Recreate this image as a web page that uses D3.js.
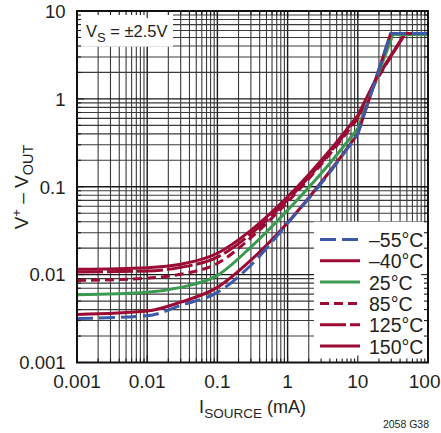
<!DOCTYPE html>
<html><head><meta charset="utf-8">
<script src="https://cdn.jsdelivr.net/npm/d3@7/dist/d3.min.js"></script>
<style>
html,body{margin:0;padding:0;background:#fff;}
svg{display:block;}
text{font-family:"Liberation Sans Narrow","Arial Narrow","Liberation Sans",Arial,sans-serif;fill:#231f20;}
</style></head>
<body>
<svg id="chart" width="441" height="433"></svg>
<script>
// ---------- data ----------
const xTickValues = [0.001, 0.01, 0.1, 1, 10, 100];
const xTickLabels = ["0.001", "0.01", "0.1", "1", "10", "100"];
const yTickValues = [0.001, 0.01, 0.1, 1, 10];
const yTickLabels = ["0.001", "0.01", "0.1", "1", "10"];

const seriesNames = ["–55°C", "–40°C", "25°C", "85°C", "125°C", "150°C"];

// ISOURCE (mA) and V+ - VOUT (V) per series
const iM55  = [0.001, 0.01, 0.03, 0.1, 0.3, 1, 4, 10, 29.4, 100];
const vM55  = [0.00317, 0.0034, 0.00446, 0.00628, 0.0128, 0.0384, 0.146, 0.40, 5.55, 5.55];
const iM40  = [0.001, 0.01, 0.03, 0.1, 0.3, 1, 4, 10, 29.4, 100];
const vM40  = [0.00352, 0.00385, 0.00486, 0.00716, 0.0146, 0.039, 0.15, 0.40, 5.55, 5.55];
const i25   = [0.001, 0.01, 0.03, 0.1, 0.3, 1, 4, 10, 31.7, 100];
const v25   = [0.0059, 0.0063, 0.00716, 0.0098, 0.0206, 0.054, 0.185, 0.46, 5.42, 5.42];
const i85   = [0.001, 0.01, 0.03, 0.1, 0.3, 1, 4, 10, 18.6, 47, 100];
const v85   = [0.0086, 0.0091, 0.0101, 0.0134, 0.0263, 0.0672, 0.236, 0.60, 1.65, 5.5, 5.5];
const i125  = [0.001, 0.01, 0.03, 0.1, 0.3, 1, 4, 10, 18.6, 47, 100];
const v125  = [0.0107, 0.0110, 0.0121, 0.0158, 0.0291, 0.071, 0.245, 0.62, 1.7, 5.5, 5.5];
const i150  = [0.001, 0.01, 0.03, 0.1, 0.3, 1, 4, 10, 18.6, 47, 100];
const v150  = [0.0115, 0.0120, 0.0131, 0.0175, 0.0319, 0.0766, 0.26, 0.65, 1.75, 5.5, 5.5];
// index of the point where the smooth part ends and straight segments begin
const kinkIndex = [7, 7, 7, 7, 7, 7];

// ---------- styles ----------
const RED = "#9b0b33", BLUE = "#3d5aa8", GREEN = "#3a9a4f";
const styles = [
  {color: BLUE,  dash: "16,6"},
  {color: RED,   dash: null},
  {color: GREEN, dash: null},
  {color: RED,   dash: "9,5"},
  {color: RED,   dash: "26,4"},
  {color: RED,   dash: null}
];
const seriesI = [iM55, iM40, i25, i85, i125, i150];
const seriesV = [vM55, vM40, v25, v85, v125, v150];

const series = seriesNames.map((n, k) => ({
  name: n,
  pts: seriesI[k].map((iv, j) => [iv, seriesV[k][j]]),
  kink: kinkIndex[k],
  color: styles[k].color,
  dash: styles[k].dash
}));

// ---------- layout ----------
const L = 77, R = 428, T = 11, B = 362.5;
const svg = d3.select("#chart");
const x = d3.scaleLog().domain([0.001, 100]).range([L, R]);
const y = d3.scaleLog().domain([0.001, 10]).range([B, T]);

// grid values
const xGrid = [], yGrid = [];
for (let e = -3; e <= 1; e++) for (let k = 1; k <= 9; k++) xGrid.push(k * Math.pow(10, e));
for (let e = -3; e <= 0; e++) for (let k = 1; k <= 9; k++) yGrid.push(k * Math.pow(10, e));
const isMajor = v => Math.abs(Math.log10(v) - Math.round(Math.log10(v))) < 1e-9;

const grid = svg.append("g");
grid.selectAll("line.gx").data(xGrid.filter(v => v > 0.0011 && v < 99)).enter().append("line")
  .attr("x1", d => x(d)).attr("x2", d => x(d)).attr("y1", T).attr("y2", B)
  .attr("stroke", d => isMajor(d) ? "#1a1a1a" : "#3a3a3a")
  .attr("stroke-width", d => isMajor(d) ? 1.4 : 1.1);
grid.selectAll("line.gy").data(yGrid.filter(v => v > 0.0011 && v < 9.9)).enter().append("line")
  .attr("y1", d => y(d)).attr("y2", d => y(d)).attr("x1", L).attr("x2", R)
  .attr("stroke", d => isMajor(d) ? "#1a1a1a" : "#3a3a3a")
  .attr("stroke-width", d => isMajor(d) ? 1.4 : 1.1);

// white boxes for annotation and legend
const legX = 314, legY = 221.7;
svg.append("rect").attr("x", L).attr("y", T).attr("width", 173 - L).attr("height", 46.7 - T).attr("fill", "#fff");
svg.append("rect").attr("x", legX).attr("y", legY).attr("width", R - legX).attr("height", B - legY).attr("fill", "#fff");

// inside ticks
const ticks = svg.append("g").attr("stroke", "#1a1a1a").attr("stroke-width", 1.1);
xGrid.concat([100]).forEach(v => {
  const len = isMajor(v) ? 7 : 4;
  ticks.append("line").attr("x1", x(v)).attr("x2", x(v)).attr("y1", B).attr("y2", B - len);
  ticks.append("line").attr("x1", x(v)).attr("x2", x(v)).attr("y1", T).attr("y2", T + len);
});
yGrid.concat([10]).forEach(v => {
  const len = isMajor(v) ? 7 : 4;
  ticks.append("line").attr("y1", y(v)).attr("y2", y(v)).attr("x1", L).attr("x2", L + len);
  ticks.append("line").attr("y1", y(v)).attr("y2", y(v)).attr("x1", R).attr("x2", R - len);
});

// curves: smooth low-current part + straight high-current part
const smooth = d3.line().x(d => x(d[0])).y(d => y(d[1])).curve(d3.curveMonotoneX);
const straight = d3.line().x(d => x(d[0])).y(d => y(d[1]));
const pathFor = s => smooth(s.pts.slice(0, s.kink + 1)) + straight(s.pts.slice(s.kink)).replace(/^M/, "L");

const drawOrder = [5, 4, 3, 2, 1, 0];
const curves = svg.append("g");
drawOrder.forEach(k => {
  const s = series[k];
  curves.append("path").attr("d", pathFor(s)).attr("fill", "none")
    .attr("stroke", s.color).attr("stroke-width", 3)
    .attr("stroke-dasharray", s.dash).attr("stroke-linejoin", "round");
});

// frame
svg.append("rect").attr("x", L).attr("y", T).attr("width", R - L).attr("height", B - T)
  .attr("fill", "none").attr("stroke", "#111").attr("stroke-width", 2);

// legend
const leg = svg.append("g");
series.forEach((s, k) => {
  const cy = 239.5 + k * 21.3;
  leg.append("line").attr("x1", 320).attr("x2", 360).attr("y1", cy).attr("y2", cy)
    .attr("stroke", s.color).attr("stroke-width", 3).attr("stroke-dasharray", s.dash);
  leg.append("text").attr("x", 369).attr("y", cy + 7.5).attr("font-size", 19.5).text(s.name);
});

// axis tick labels
svg.append("g").selectAll("text").data(xTickValues).enter().append("text")
  .attr("x", (d, i) => i === xTickValues.length - 1 ? 440.5 : x(d)).attr("y", 388)
  .attr("text-anchor", (d, i) => i === xTickValues.length - 1 ? "end" : "middle").attr("font-size", 19)
  .text((d, i) => xTickLabels[i]);
svg.append("g").selectAll("text").data(yTickValues).enter().append("text")
  .attr("x", 65.5).attr("y", d => y(d) + 6.8).attr("text-anchor", "end").attr("font-size", 18.5)
  .text((d, i) => yTickLabels[i]);

// VS annotation
const vs = svg.append("text").attr("x", 86).attr("y", 37).attr("font-size", 16.5);
vs.append("tspan").text("V");
vs.append("tspan").attr("font-size", 13).attr("dy", 4.5).text("S");
vs.append("tspan").attr("dy", -4.5).text(" = ±2.5V");

// axis titles
const xt = svg.append("text").attr("x", 252.5).attr("y", 413).attr("text-anchor", "middle").attr("font-size", 18);
xt.append("tspan").text("I");
xt.append("tspan").attr("font-size", 13.5).attr("dy", 4.5).text("SOURCE");
xt.append("tspan").attr("dy", -4.5).text(" (mA)");

const yt = svg.append("text").attr("transform", "translate(28,187) rotate(-90)")
  .attr("text-anchor", "middle").attr("font-size", 19);
yt.append("tspan").text("V");
yt.append("tspan").attr("font-size", 13).attr("dy", -7).text("+");
yt.append("tspan").attr("dy", 7).text(" – V");
yt.append("tspan").attr("font-size", 14.5).attr("dy", 4.5).text("OUT");

// footer code
svg.append("text").attr("x", 429).attr("y", 428).attr("text-anchor", "end").attr("font-size", 10.5).text("2058 G38");
</script>
</body></html>
